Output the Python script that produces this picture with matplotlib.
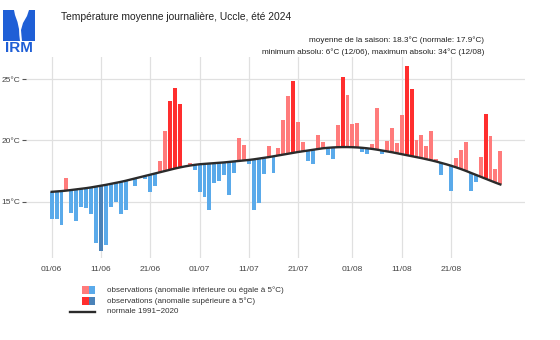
import numpy as np
import pandas as pd
import matplotlib
matplotlib.use("Agg")
import matplotlib.pyplot as plt
import matplotlib.dates as mdates
from matplotlib.patches import Rectangle, Polygon

plt.rcParams['font.family'] = ['Liberation Sans', 'DejaVu Sans']

# jours de l'été 2024 (01/06 -> 31/08)
jours = pd.date_range("2024-06-01", "2024-08-31", freq="D")

# température moyenne journalière observée (°C)
temp_obs = [
    13.6, 13.55, 13.1, 16.9, 14.05, 13.4, 14.6, 14.5, 14.0, 11.6,
    10.95, 11.5, 14.6, 15.0, 14.0, 14.3, 16.8, 16.24, 17.0, 16.88,
    15.75, 16.3, 18.32, 20.78, 23.25, 24.3, 22.95, 17.87, 18.18, 17.55,
    15.82, 15.35, 14.3, 16.5, 16.7, 17.2, 15.5, 17.35, 20.17, 19.62,
    18.06, 14.33, 14.9, 17.24, 19.56, 17.37, 19.4, 21.7, 23.6, 24.84,
    21.47, 19.9, 18.32, 18.07, 20.44, 19.9, 18.8, 18.48, 21.25, 25.13,
    23.7, 21.3, 21.43, 19.02, 18.86, 19.67, 22.6, 18.91, 19.97, 20.98,
    19.8, 22.06, 26.06, 24.16, 20.02, 20.42, 19.56, 20.76, 18.47, 17.17,
    18.05, 15.9, 18.53, 19.18, 19.89, 15.9, 16.6, 18.61, 22.12, 20.38,
    17.66, 19.15,
]

# normale 1991-2020 (°C)
temp_norm = [
    15.80, 15.83, 15.86, 15.90, 15.95, 16.00, 16.05, 16.10, 16.16, 16.23,
    16.30, 16.37, 16.45, 16.53, 16.61, 16.70, 16.80, 16.90, 17.00, 17.10,
    17.20, 17.30, 17.40, 17.50, 17.60, 17.70, 17.79, 17.87, 17.94, 18.00,
    18.05, 18.08, 18.11, 18.14, 18.17, 18.20, 18.24, 18.28, 18.32, 18.36,
    18.40, 18.45, 18.51, 18.57, 18.63, 18.70, 18.77, 18.84, 18.91, 18.98,
    19.05, 19.11, 19.17, 19.23, 19.29, 19.35, 19.39, 19.42, 19.44, 19.45,
    19.45, 19.44, 19.42, 19.39, 19.35, 19.30, 19.24, 19.17, 19.10, 19.03,
    18.95, 18.87, 18.79, 18.71, 18.63, 18.55, 18.46, 18.37, 18.27, 18.16,
    18.05, 17.93, 17.80, 17.66, 17.51, 17.35, 17.19, 17.03, 16.87, 16.71,
    16.55, 16.40,
]

ticks_dates = ["2024-06-01", "2024-06-11", "2024-06-21", "2024-07-01", "2024-07-11",
               "2024-07-21", "2024-08-01", "2024-08-11", "2024-08-21"]
ticks_temp = [15, 20, 25]

titre = "Température moyenne journalière, Uccle, été 2024"
ligne_moy = "moyenne de la saison: 18.3°C (normale: 17.9°C)"
ligne_ext = "minimum absolu: 6°C (12/06), maximum absolu: 34°C (12/08)"

ROUGE_CLAIR = "#ff7b7b"
ROUGE = "#ff2e2e"
BLEU_CLAIR = "#5aaaea"
BLEU = "#4a82b8"

obs = np.array(temp_obs)
norm = np.array(temp_norm)
anom = obs - norm
couleurs = []
for a in anom:
    if a > 5:
        couleurs.append(ROUGE)
    elif a >= 0:
        couleurs.append(ROUGE_CLAIR)
    elif a >= -5:
        couleurs.append(BLEU_CLAIR)
    else:
        couleurs.append(BLEU)

fig = plt.figure(figsize=(5.6, 3.4), dpi=100)
ax = fig.add_axes([26 / 560, 1 - 258 / 340, (525 - 26) / 560, (258 - 57) / 340])

ax.bar(jours, anom, bottom=norm, width=0.8, color=couleurs, linewidth=0, zorder=2)
ax.plot(jours, norm, color="#2b2b2b", lw=1.7, zorder=3)

ax.set_xlim(jours[0] - pd.Timedelta(days=5.2), jours[0] + pd.Timedelta(days=96))
ax.set_ylim(10.4, 26.8)
ax.set_xticks(pd.to_datetime(ticks_dates))
ax.xaxis.set_major_formatter(mdates.DateFormatter("%d/%m"))
ax.set_yticks(ticks_temp)
ax.set_yticklabels([f"{t}°C" for t in ticks_temp])
ax.grid(True, color="#e0e0e0", lw=0.9, zorder=0)
ax.set_axisbelow(True)
for s in ax.spines.values():
    s.set_visible(False)
ax.tick_params(axis="x", length=0, pad=6, labelsize=6.0, labelcolor="#444444")
ax.tick_params(axis="y", length=3, width=0.8, color="#555555", pad=1,
               labelsize=6.0, labelcolor="#444444")

# calque pour le logo, les textes et la légende (coordonnées en pixels)
ov = fig.add_axes([0, 0, 1, 1], zorder=-1)
ov.set_xlim(0, 560)
ov.set_ylim(340, 0)
ov.axis("off")

bleu_irm = "#1f5fd6"
ov.add_patch(Rectangle((3, 10), 32, 31, color=bleu_irm, lw=0))
ov.add_patch(Polygon([(14, 10), (29, 10), (27, 16), (23, 23), (21, 30), (21.5, 36),
                      (22, 41), (20, 41), (19.3, 35), (19, 29), (17.5, 22), (15, 15)],
                     closed=True, color="white", lw=0))
ov.text(19, 48.5, "IRM", color=bleu_irm, fontsize=11, fontweight="bold",
        ha="center", va="center")

ov.text(61, 17, titre, fontsize=7.4, color="#222222", ha="left", va="center")
ov.text(484, 40.5, ligne_moy, fontsize=5.9, color="#222222", ha="right", va="center")
ov.text(484, 52.5, ligne_ext, fontsize=5.9, color="#222222", ha="right", va="center")

# légende
lignes_leg = [
    (290, ROUGE_CLAIR, BLEU_CLAIR, "observations (anomalie inférieure ou égale à 5°C)"),
    (301, ROUGE, BLEU, "observations (anomalie supérieure à 5°C)"),
]
for y, c1, c2, lab in lignes_leg:
    ov.add_patch(Rectangle((82, y - 3.6), 6.6, 7.2, color=c1, lw=0))
    ov.add_patch(Rectangle((88.6, y - 3.6), 6.6, 7.2, color=c2, lw=0))
    ov.text(107, y, lab, fontsize=5.75, color="#333333", ha="left", va="center")
ov.plot([70, 95], [311.5, 311.5], color="#2b2b2b", lw=1.7)
ov.text(107, 311.5, "normale 1991\u22122020", fontsize=5.75, color="#333333",
        ha="left", va="center")

fig.savefig("out.png", dpi=100)
